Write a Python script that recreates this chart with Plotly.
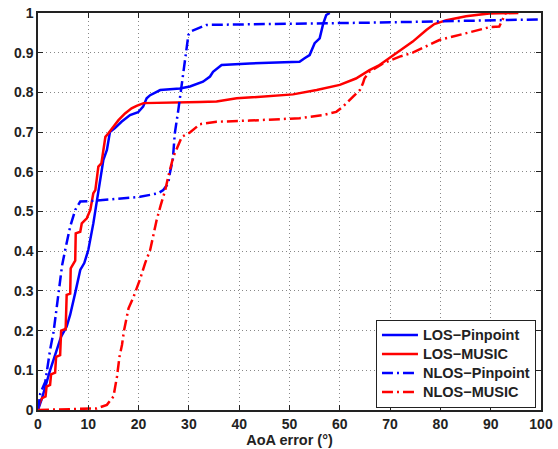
import plotly.graph_objects as go

# ---- data ----
los_pin_x = [0, 0.8, 2.4, 3.4, 4.6, 5.7, 6.4, 7.4, 8.4, 9.2, 10, 11, 11.7, 12.4, 13, 13.7,
             14.3, 15.3, 16.6, 18.3, 19.9, 20.9, 21.6, 22.3, 24.3, 28.2, 30.2, 32.8, 34.2,
             34.8, 36.5, 42.1, 52, 53, 54, 55, 56, 56.7, 57.3, 58]
los_pin_y = [0, 0.03, 0.1, 0.14, 0.185, 0.21, 0.24, 0.295, 0.353, 0.37, 0.403, 0.47, 0.529,
             0.588, 0.63, 0.655, 0.70, 0.71, 0.726, 0.743, 0.75, 0.764, 0.785, 0.793, 0.806,
             0.81, 0.815, 0.827, 0.84, 0.852, 0.869, 0.873, 0.877, 0.886, 0.894, 0.924, 0.936,
             0.973, 0.995, 1.0]

los_music_x = [0, 0.3, 0.8, 1.5, 1.7, 2.4, 2.6, 3.4, 3.6, 4.4, 4.6, 5.5, 5.7, 6.4, 6.5, 7.4,
               7.5, 8.4, 8.7, 9.7, 10.4, 11, 11.4, 12, 12.6, 13, 13.4, 14, 15.3, 16, 17.3,
               18.6, 19.6, 21, 32.2, 35.5, 39.5, 44.1, 50.7, 55.4, 60, 63.2, 65.9, 67.9,
               71.9, 74.5, 77.2, 78.8, 81.2, 85.1, 89.7, 95.5]
los_music_y = [0, 0.017, 0.03, 0.034, 0.059, 0.063, 0.09, 0.094, 0.134, 0.138, 0.2, 0.204,
               0.29, 0.293, 0.357, 0.376, 0.445, 0.449, 0.47, 0.483, 0.504, 0.546, 0.554,
               0.613, 0.621, 0.655, 0.688, 0.697, 0.718, 0.73, 0.747, 0.76, 0.766, 0.773,
               0.776, 0.777, 0.785, 0.789, 0.795, 0.806, 0.819, 0.835, 0.856, 0.869, 0.905,
               0.928, 0.957, 0.972, 0.982, 0.992, 0.999, 1.0]

nlos_pin_x = [0, 0.46, 1.45, 2.4, 3.1, 4.1, 4.8, 5.4, 6.4, 7.4, 8.4, 11, 20.3, 23.9, 24.9,
              25.9, 26.2, 26.8, 27.2, 27.9, 28.6, 29.2, 29.9, 30.6, 31.9, 33.5, 67.9, 100]
nlos_pin_y = [0, 0.042, 0.071, 0.151, 0.197, 0.302, 0.365, 0.403, 0.462, 0.504, 0.525, 0.527,
              0.537, 0.546, 0.554, 0.571, 0.596, 0.63, 0.697, 0.756, 0.823, 0.89, 0.945,
              0.955, 0.962, 0.97, 0.976, 0.984]

nlos_music_x = [0, 11.7, 13.7, 15, 15.7, 16.2, 16.7, 17.1, 18, 19, 20.3, 21.3, 22.3, 22.9,
                23.6, 24.4, 25.3, 25.9, 26.9, 28.6, 30.2, 32.2, 35.5, 42.1, 52, 56.7, 59.3,
                60.6, 62.6, 64, 64.6, 64.9, 65.9, 68.6, 71.9, 74.5, 79.8, 85.7, 89.7, 91.7,
                92, 92.4, 93]
nlos_music_y = [0, 0.004, 0.013, 0.034, 0.084, 0.134, 0.164, 0.2, 0.256, 0.285, 0.33, 0.37,
                0.403, 0.441, 0.479, 0.516, 0.554, 0.588, 0.638, 0.688, 0.699, 0.72, 0.726,
                0.729, 0.735, 0.743, 0.751, 0.764, 0.789, 0.806, 0.823, 0.835, 0.852, 0.873,
                0.89, 0.9, 0.932, 0.951, 0.964, 0.966, 0.974, 0.986, 1.0]

series_names = ["LOS−Pinpoint", "LOS−MUSIC", "NLOS−Pinpoint", "NLOS−MUSIC"]

x_ticks = [0, 10, 20, 30, 40, 50, 60, 70, 80, 90, 100]
y_ticks = [0, 0.1, 0.2, 0.3, 0.4, 0.5, 0.6, 0.7, 0.8, 0.9, 1]
y_tick_labels = ["0", "0.1", "0.2", "0.3", "0.4", "0.5", "0.6", "0.7", "0.8", "0.9", "1"]

BLUE = "#0000FF"
RED = "#FF0000"
DASHDOT = "11px,4px,2px,4px"
FONT = "Liberation Sans, Arial, Helvetica, sans-serif"
INK = "#222"


def legend_label(name):
    # larger glyphs while the legend keeps its compact row spacing
    return '<span style="font-size:14.5px">' + name + "</span>"


fig = go.Figure()
fig.add_trace(go.Scatter(x=los_pin_x, y=los_pin_y, mode="lines",
                         name=legend_label(series_names[0]),
                         line=dict(color=BLUE, width=2.5)))
fig.add_trace(go.Scatter(x=los_music_x, y=los_music_y, mode="lines",
                         name=legend_label(series_names[1]),
                         line=dict(color=RED, width=2.5)))
fig.add_trace(go.Scatter(x=nlos_pin_x, y=nlos_pin_y, mode="lines",
                         name=legend_label(series_names[2]),
                         line=dict(color=BLUE, width=2.5, dash=DASHDOT)))
fig.add_trace(go.Scatter(x=nlos_music_x, y=nlos_music_y, mode="lines",
                         name=legend_label(series_names[3]),
                         line=dict(color=RED, width=2.5, dash=DASHDOT)))

axis_common = dict(
    showline=True, linecolor=INK, linewidth=1.5, mirror="ticks",
    ticks="inside", ticklen=5, tickwidth=1, tickcolor=INK,
    showgrid=True, gridcolor="#888", gridwidth=1, griddash="1px,3px",
    zeroline=False, automargin=False,
    tickfont=dict(family=FONT, size=14, color=INK, weight="bold"),
)

fig.update_layout(
    width=558, height=449,
    margin=dict(l=38, r=17, t=13, b=39),
    paper_bgcolor="white", plot_bgcolor="white",
    showlegend=True,
    legend=dict(
        x=0.99, xanchor="right", y=0.006, yanchor="bottom",
        bgcolor="white", bordercolor=INK, borderwidth=1,
        font=dict(family=FONT, size=12, color=INK, weight="bold"),
        itemwidth=36, tracegroupgap=0,
    ),
    xaxis=dict(range=[0, 100], tickvals=x_ticks,
               title=dict(text="AoA error (°)", standoff=3,
                          font=dict(family=FONT, size=14.5, color=INK, weight="bold")),
               **axis_common),
    yaxis=dict(range=[0, 1], tickvals=y_ticks, ticktext=y_tick_labels, **axis_common),
)

fig.write_html("out.html", config={"displayModeBar": False},
               post_script="document.body.style.margin='0px';")
